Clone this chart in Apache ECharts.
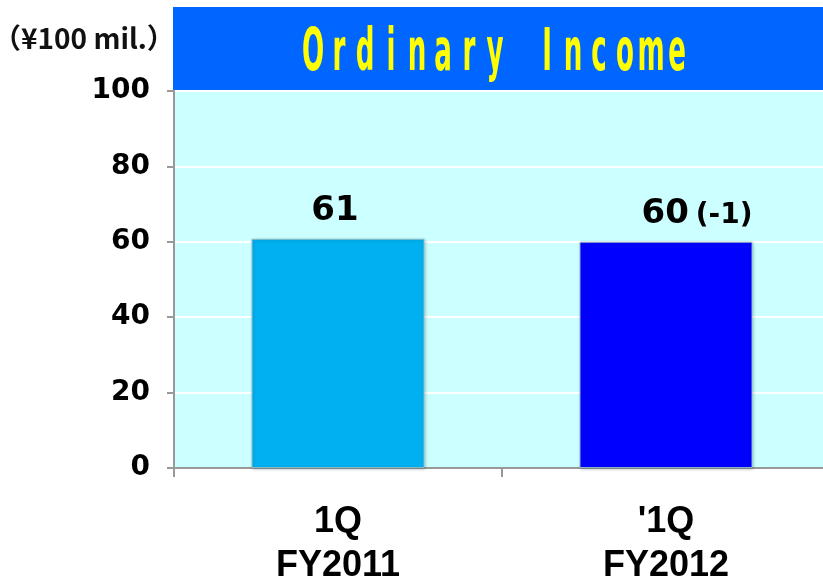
<!DOCTYPE html>
<html><head><meta charset="utf-8">
<script src="https://cdn.jsdelivr.net/npm/echarts@6/dist/echarts.min.js"></script>
<style>html,body{margin:0;padding:0;background:#fff}#c{width:823px;height:582px}</style>
</head><body><div id="c"></div>
<script>
const categories = ['1Q\nFY2011', "'1Q\nFY2012"];
const values = [60.8, 60];
const valueLabels = ['61', '60'];
const changeLabels = ['', '(-1)'];
const barColors = ['#00b0f0', '#0000ff'];
const yTicks = [0, 20, 40, 60, 80, 100];
const titleText = 'Ordinary Income';
const unitText = '（¥100 mil.）';

const chart = echarts.init(document.getElementById('c'));
const titleScale = 0.5;
const pitch = 26;
const titleFont = "'DejaVu Sans Condensed',sans-serif";
chart.setOption({
  animation: false,
  graphic: [
    { type: 'rect', shape: { x: 173, y: 7, width: 660, height: 84 }, style: { fill: '#0066ff' }, z: 0 },
    { type: 'text', x: 495, y: 55, scaleX: titleScale, z: 10,
      style: {
        text: titleText.split('').map(ch => ch === ' ' ? '{s|\u00a0}' : `{c|${ch}}`).join(''),
        textAlign: 'center', textVerticalAlign: 'middle',
        fill: '#ffff00',
        font: "bold 58px " + titleFont,
        rich: {
          c: { width: pitch / titleScale, align: 'center', fill: '#ffff00', fontSize: 58, fontWeight: 'bold', fontFamily: titleFont },
          s: { width: pitch / titleScale, fontSize: 58, fontWeight: 'bold', fontFamily: titleFont }
        }
      } },
    { type: 'text', x: -7, y: 38, z: 10,
      style: { text: unitText, fill: '#111', font: "bold 28px 'Noto Sans CJK JP',sans-serif", textAlign: 'left', textVerticalAlign: 'middle' } }
  ],
  grid: { left: 174, right: -7, top: 91, bottom: 114, outerBoundsMode: 'none', containLabel: false, show: true, backgroundColor: '#ccffff', borderColor: '#999', borderWidth: 1 },
  xAxis: {
    type: 'category', data: categories,
    axisLine: { lineStyle: { color: '#999', width: 2 } },
    axisTick: { show: true, length: 9, lineStyle: { color: '#999', width: 2 } },
    axisLabel: { color: '#000', fontFamily: "'Liberation Sans',Arial,sans-serif", fontWeight: 'bold', fontSize: 36, lineHeight: 44, margin: 32 }
  },
  yAxis: {
    type: 'value', min: 0, max: 100, interval: 20,
    axisLine: { show: true, lineStyle: { color: '#999', width: 2 } },
    axisTick: { show: true, length: 7, lineStyle: { color: '#999', width: 2 } },
    splitLine: { lineStyle: { color: '#ffffff', width: 2 } },
    axisLabel: { color: '#000', fontFamily: "'DejaVu Sans',sans-serif", fontWeight: 'bold', fontSize: 28, margin: 24,
      formatter: v => yTicks.includes(v) ? String(v) : '' }
  },
  series: [{
    type: 'bar', barWidth: 173,
    data: values.map((v, i) => ({
      value: v,
      itemStyle: { color: barColors[i], borderColor: 'rgba(150,190,195,0.9)', borderWidth: 1, shadowColor: 'rgba(0,60,80,0.25)', shadowBlur: 3, shadowOffsetX: 1, shadowOffsetY: 1 },
      label: {
        show: true, position: 'top', distance: 11,
        offset: [changeLabels[i] ? 31 : -3, 0],
        formatter: changeLabels[i] ? `{a|${valueLabels[i]}}{b|${changeLabels[i]}}` : `{a|${valueLabels[i]}}`,
        rich: {
          a: { fontFamily: "'DejaVu Sans',sans-serif", fontWeight: 'bold', fontSize: 34, color: '#000' },
          b: { fontFamily: "'DejaVu Sans',sans-serif", fontWeight: 'bold', fontSize: 28, color: '#000', padding: [4, 0, 0, 7] }
        }
      }
    }))
  }]
});
</script></body></html>
